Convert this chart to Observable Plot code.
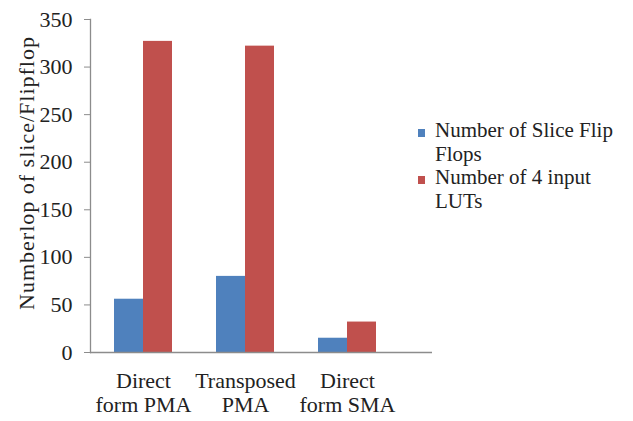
<!DOCTYPE html>
<html>
<head>
<meta charset="utf-8">
<script src="https://cdn.jsdelivr.net/npm/d3@7"></script>
<script src="https://cdn.jsdelivr.net/npm/@observablehq/plot@0.6"></script>
<style>
  html, body { margin: 0; padding: 0; background: #fff; }
  #wrap { position: relative; width: 633px; height: 421px; overflow: hidden; }
  #legend { position: absolute; left: 418px; top: 119px; width: 205px;
    font-family: "Liberation Serif", "Times New Roman", serif; font-size: 21px; line-height: 23.5px; color: #222; }
  .item { display: flex; align-items: flex-start; }
  .sw { width: 7px; height: 8px; margin-top: 10px; margin-right: 10px; flex: none; }
  .lbl { width: 185px; }
</style>
</head>
<body>
<div id="wrap"></div>
<script>
const categories = ["Direct\nform PMA", "Transposed\nPMA", "Direct\nform SMA"];
const seriesNames = ["Number of Slice Flip Flops", "Number of 4 input LUTs"];
const sliceFlipFlops = [56, 80, 15];
const lut4Input = [327, 322, 32];
const colors = ["#4F81BD", "#C0504D"];
const yTicks = [0, 50, 100, 150, 200, 250, 300, 350];
const yLabel = "Numberlop of slice/Flipflop";

const rows = [];
categories.forEach((c, i) => {
  rows.push({category: c, series: seriesNames[0], value: sliceFlipFlops[i]});
  rows.push({category: c, series: seriesNames[1], value: lut4Input[i]});
});

const font = "'Liberation Serif', 'Times New Roman', serif";

const chart = Plot.plot({
  width: 633,
  height: 421,
  marginLeft: 90,
  marginRight: 201,
  marginTop: 19,
  marginBottom: 69,
  style: {fontFamily: font, fontSize: "22px", color: "#222", background: "#fff"},
  x: {domain: categories, range: [92, 398], padding: 0},
  y: {domain: [0, 350]},
  color: {domain: seriesNames, range: colors},
  marks: [
    Plot.barY(rows.filter(d => d.series === seriesNames[0]), {x: "category", y: "value", fill: "series", insetLeft: 22, insetRight: 51}),
    Plot.barY(rows.filter(d => d.series === seriesNames[1]), {x: "category", y: "value", fill: "series", insetLeft: 51, insetRight: 22}),
    Plot.ruleY([0], {stroke: "#8c8c8c", strokeWidth: 1.3}),
    Plot.frame({anchor: "left", stroke: "#8c8c8c", strokeWidth: 1.3}),
    Plot.axisY({ticks: yTicks, tickSize: 6, tickPadding: 12, stroke: "#8c8c8c", fontSize: 22,
      label: yLabel, labelAnchor: "center", labelArrow: false, labelOffset: 72}),
    Plot.axisX({tickSize: 0, tickPadding: 18, fontSize: 22, lineHeight: 1.1, label: null})
  ]
});

// style y-axis label: slightly larger, spaced, and moved up a little
d3.select(chart).selectAll("[aria-label='y-axis label'] text")
  .style("letter-spacing", "1px").style("font-size", "22px").attr("dx", 13);

document.getElementById("wrap").appendChild(chart);

const legend = document.createElement("div");
legend.id = "legend";
seriesNames.forEach((name, i) => {
  const item = document.createElement("div");
  item.className = "item";
  const sw = document.createElement("div");
  sw.className = "sw";
  sw.style.background = colors[i];
  const lbl = document.createElement("div");
  lbl.className = "lbl";
  lbl.textContent = name;
  item.appendChild(sw);
  item.appendChild(lbl);
  legend.appendChild(item);
});
document.getElementById("wrap").appendChild(legend);
</script>
</body>
</html>
